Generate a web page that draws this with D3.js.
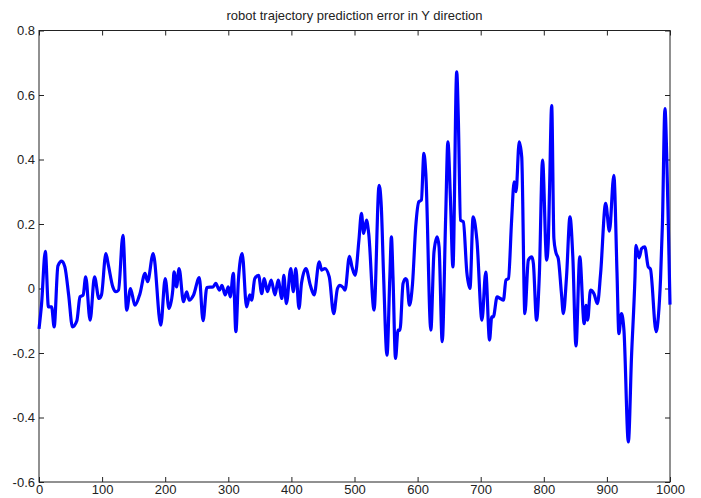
<!DOCTYPE html>
<html>
<head>
<meta charset="utf-8">
<script src="https://cdn.jsdelivr.net/npm/d3@7"></script>
<style>
  body { margin: 0; background: #fff; }
  text { font-family: "Liberation Sans", Arial, sans-serif; }
</style>
</head>
<body>
<div id="chart"></div>
<script>
// data
var title = "robot trajectory prediction error in Y direction";
var xTicks = [0, 100, 200, 300, 400, 500, 600, 700, 800, 900, 1000];
var yTicks = [-0.6, -0.4, -0.2, 0, 0.2, 0.4, 0.6, 0.8];

var stepX = [0, 4, 10, 15, 20, 24, 30, 36, 41, 47, 53, 60, 65, 70, 74, 81, 88, 95, 99, 106, 110, 117, 122, 126, 133, 139, 145, 152, 160, 168, 172, 181, 193, 200, 206, 212, 214, 218, 222, 229, 234, 238, 245, 254, 260, 266,
  276, 280, 286, 290, 295, 300, 303, 308, 312, 316, 322, 329, 334, 337, 342, 348, 353, 357, 362, 368, 374, 379, 385, 388, 392, 399, 403, 407, 412, 416, 423, 430, 436, 444, 448, 453, 460, 467, 473, 477, 482, 485,
  492, 496, 501, 507, 511, 514.5, 519, 522.5, 531, 539, 542.5, 546, 551.5, 556, 558.5, 561, 565, 569, 572, 577, 581, 583, 587, 592, 597, 602, 606, 610, 613, 621, 626, 631, 634, 639, 644.5, 648, 652, 656,
  662, 664.5, 668, 672.5, 678, 683, 688, 694, 702, 708, 714, 717.5, 720, 726, 731, 736, 740, 744, 749, 753, 756, 761, 765, 770, 775.5, 781, 783.5, 788.5, 793, 798, 804.5, 807, 809, 812.5, 816, 819, 823, 828, 831,
  836, 841.5, 846, 851, 857, 864, 867, 869.5, 874, 879.5, 885, 890, 898, 904, 911, 916, 919, 923, 927, 934, 939, 944.5, 946, 951, 955, 960, 965.5, 969, 978, 981.5, 985, 988, 992, 994.7, 997.3, 1000];

var errY = [-0.125, -0.05, 0.115, -0.057, -0.057, -0.119, 0.07, 0.085, 0.067, -0.02, -0.119, -0.10, -0.026, -0.02, 0.036, -0.098, 0.036, -0.031, -0.02, 0.108, 0.072, 0.005, -0.01, -0.005, 0.165, -0.067, 0, -0.052, -0.016, 0.047, 0.021, 0.108, -0.114, 0.031, -0.062, -0.005, 0.052, 0.005, 0.062, -0.041, -0.01, -0.036, -0.02, 0.034, -0.10, 0.003,
  0.005, 0.016, -0.005, 0.01, -0.02, 0.005, -0.026, 0.047, -0.134, 0.026, 0.108, -0.057, -0.02, -0.036, 0.031, 0.041, -0.016, 0.031, -0.01, 0.026, -0.02, 0.026, -0.031, 0.041, -0.047, 0.062, -0.01, 0.062, -0.062, 0.016, 0.062, 0.01, -0.02, 0.083, 0.057, 0.062, 0.036, -0.078, 0, 0.01, 0.003, -0.005,
  0.1, 0.067, 0.041, 0.15, 0.233, 0.171, 0.212, 0.171, -0.067, 0.32, 0.253, 0.046, -0.207, 0.036, 0.16, 0.036, -0.217, -0.129, -0.13, 0.016, 0.031, 0.026, -0.052, 0.016, 0.191, 0.269, 0.274, 0.419, 0.357, -0.129, 0.114, 0.16, 0.129, -0.165, 0.222, 0.455, 0.28, 0.067,
  0.672, 0.532, 0.212, 0.207, 0.051, 0, 0.222, 0.15, -0.098, 0.051, -0.16, -0.088, -0.088, -0.026, -0.031, -0.036, 0.026, 0.031, 0.212, 0.331, 0.3, 0.455, 0.408, -0.078, 0.088, 0.098, 0.077, -0.098, 0.046, 0.398, 0.088, 0.14, 0.298, 0.567, 0.155, 0.113, 0.092, -0.016, -0.078,
  0.036, 0.222, 0.098, -0.178, 0.098, -0.109, -0.052, -0.098, -0.005, -0.016, -0.047, 0.046, 0.264, 0.178, 0.351, 0.05, -0.14, -0.078, -0.129, -0.476, -0.212, 0.036, 0.134, 0.095, 0.124, 0.129, 0.067, 0.06, -0.134, -0.088, 0.03, 0.2, 0.558, 0.419, 0.202, -0.05];

var width = 701;
var height = 498;
var margin = {top: 30.5, right: 31, bottom: 16, left: 39};

var svg = d3.select("#chart")
  .append("svg")
    .attr("width", width)
    .attr("height", height);

var x = d3.scaleLinear()
  .domain([0, 1000])
  .range([margin.left, width - margin.right]);

var y = d3.scaleLinear()
  .domain([-0.6, 0.8])
  .range([height - margin.bottom, margin.top]);

function fmt(d) { return String(Math.round(d * 10) / 10); }

// box
svg.append("rect")
  .attr("x", x(0))
  .attr("y", y(0.8))
  .attr("width", x(1000) - x(0))
  .attr("height", y(-0.6) - y(0.8))
  .attr("fill", "none")
  .attr("stroke", "#222")
  .attr("stroke-width", 1);

// axes, ticks point inward like matlab
var xb = svg.append("g")
  .attr("transform", "translate(0," + y(-0.6) + ")")
  .call(d3.axisBottom(x).tickValues(xTicks).tickFormat(d3.format("d")).tickSize(-5).tickPadding(3));
var xt = svg.append("g")
  .attr("transform", "translate(0," + y(0.8) + ")")
  .call(d3.axisTop(x).tickValues(xTicks).tickFormat("").tickSize(-5));
var yl = svg.append("g")
  .attr("transform", "translate(" + x(0) + ",0)")
  .call(d3.axisLeft(y).tickValues(yTicks).tickFormat(fmt).tickSize(-5).tickPadding(4));
var yr = svg.append("g")
  .attr("transform", "translate(" + x(1000) + ",0)")
  .call(d3.axisRight(y).tickValues(yTicks).tickFormat("").tickSize(-5));

[xb, xt, yl, yr].forEach(function(g) {
  g.select(".domain").remove();
  g.selectAll("line").attr("stroke", "#222");
  g.selectAll("text")
    .attr("fill", "#222")
    .style("font-family", '"Liberation Sans", Arial, sans-serif')
    .style("font-size", "13px");
});

// the error curve
var pts = stepX.map(function(d, i) { return [d, errY[i]]; });

var line = d3.line()
  .x(function(d) { return x(d[0]); })
  .y(function(d) { return y(d[1]); })
  .curve(d3.curveMonotoneX);

svg.append("path")
  .datum(pts)
  .attr("fill", "none")
  .attr("stroke", "#0000ff")
  .attr("stroke-width", 3.2)
  .attr("stroke-linejoin", "round")
  .attr("d", line);

// title
svg.append("text")
  .attr("x", (x(0) + x(1000)) / 2)
  .attr("y", 20)
  .attr("text-anchor", "middle")
  .attr("fill", "#222")
  .style("font-size", "13px")
  .text(title);
</script>
</body>
</html>
